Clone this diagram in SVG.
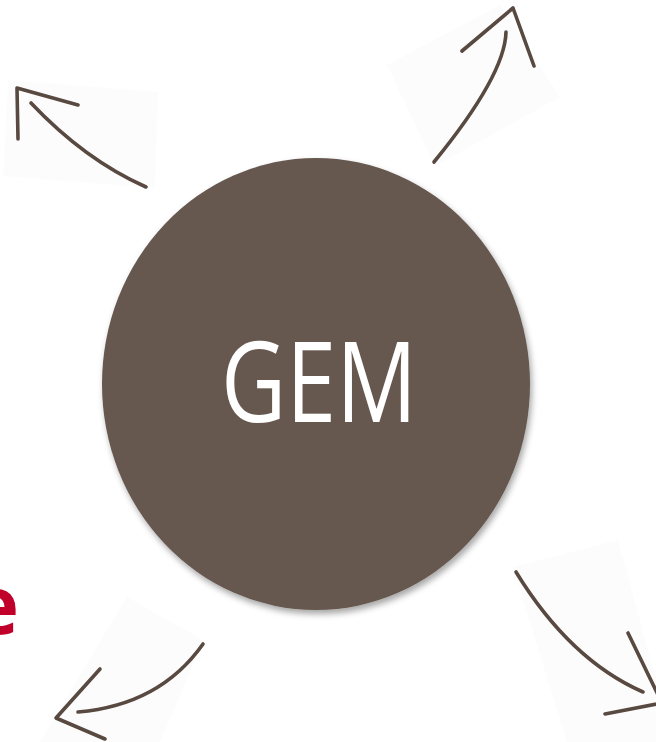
<svg xmlns="http://www.w3.org/2000/svg" width="656" height="742" viewBox="0 0 656 742">
<defs>
<style>
.pad{fill:#fcfcfc;}
.arrow{fill:none;stroke:#584941;stroke-width:3.6;stroke-linecap:round;stroke-linejoin:round;}
.gem{font-family:"Open Sans","Liberation Sans",sans-serif;font-size:112px;fill:#ffffff;}
.red{font-family:"Open Sans","Liberation Sans",sans-serif;font-weight:bold;font-size:80px;fill:#c0002a;}
</style>
<filter id="sh" x="-10%" y="-10%" width="120%" height="120%">
<feDropShadow dx="2" dy="4" stdDeviation="3" flood-color="#000" flood-opacity="0.35"/>
</filter>
</defs>
<rect width="656" height="742" fill="#ffffff"/>
<g id="pads">
<polygon class="pad" points="8,80 158,92 155,188 3,176"/>
<polygon class="pad" points="387,65 500,5 560,97 435,166"/>
<polygon class="pad" points="127,597 203,640 160,742 40,742"/>
<polygon class="pad" points="513,567 618,540 656,680 656,742 567,742"/>
</g>
<g id="gem">
<ellipse cx="316" cy="384" rx="214" ry="226" fill="#665850" filter="url(#sh)"/>
<text class="gem" x="319" y="422" text-anchor="middle" textLength="196" lengthAdjust="spacingAndGlyphs">GEM</text>
</g>
<g id="label-e">
<text class="red" x="19" y="634" text-anchor="end">e</text>
</g>
<g id="connectors">
<path class="arrow" d="M146,187 Q85,160 31,103"/>
<path class="arrow" d="M78,105 L17,88 L18,139"/>
<path class="arrow" d="M434,162 Q505,75 506,32"/>
<path class="arrow" d="M462,51 L513,8 L534,66"/>
<path class="arrow" d="M203,644 Q160,705 78,712"/>
<path class="arrow" d="M100,669 L56,718 L105,739"/>
<path class="arrow" d="M516,572 Q570,660 643,692"/>
<path class="arrow" d="M628,633 L662,703 L605,714"/>
</g>
</svg>
